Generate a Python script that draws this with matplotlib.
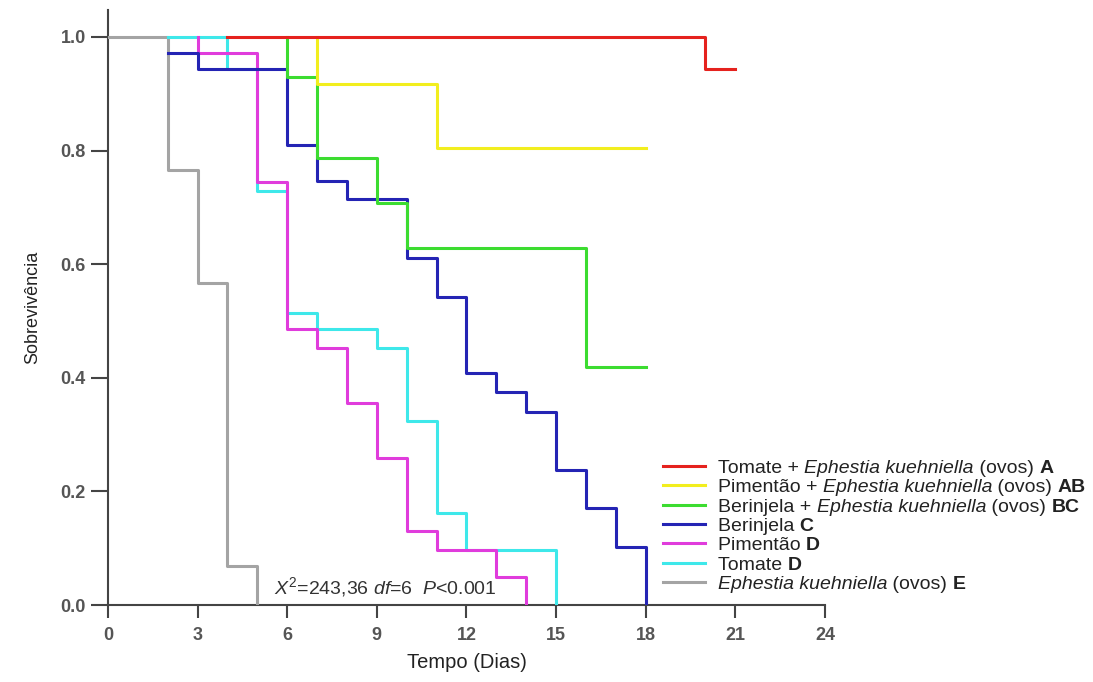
import matplotlib
matplotlib.use("Agg")
import matplotlib.pyplot as plt
from matplotlib.lines import Line2D

plt.rcParams['font.family'] = ['Liberation Sans', 'DejaVu Sans']
plt.rcParams['mathtext.fontset'] = 'custom'
plt.rcParams['mathtext.rm'] = 'Liberation Sans'
plt.rcParams['mathtext.it'] = 'Liberation Sans:italic'
plt.rcParams['mathtext.bf'] = 'Liberation Sans:bold'

# survival steps: value holds from times[i] on (last time = end of curve)
red_t = [4, 20, 21]
red_s = [1.0, 0.943, 0.943]
yellow_t = [7, 7, 11, 18]
yellow_s = [1.0, 0.917, 0.804, 0.804]
green_t = [6, 6, 7, 9, 10, 16, 18]
green_s = [1.0, 0.93, 0.786, 0.707, 0.629, 0.419, 0.419]
blue_t = [2, 3, 6, 7, 8, 10, 11, 12, 13, 14, 15, 16, 17, 18]
blue_s = [0.971, 0.943, 0.81, 0.747, 0.714, 0.611, 0.543, 0.408, 0.375, 0.34, 0.238, 0.17, 0.102, 0.0]
magenta_t = [3, 3, 5, 6, 7, 8, 9, 10, 11, 13, 14]
magenta_s = [1.0, 0.971, 0.745, 0.486, 0.452, 0.356, 0.259, 0.130, 0.097, 0.049, 0.0]
cyan_t = [2, 4, 5, 6, 7, 9, 10, 11, 12, 15]
cyan_s = [1.0, 0.943, 0.729, 0.514, 0.486, 0.452, 0.324, 0.162, 0.097, 0.0]
grey_t = [0, 2, 3, 4, 5]
grey_s = [1.0, 0.766, 0.567, 0.069, 0.0]

# legend labels as (text, style) pieces: n = normal, i = italic, b = bold
labels = [
    [("Tomate + ", "n"), ("Ephestia kuehniella", "i"), (" (ovos) ", "n"), ("A", "b")],
    [("Pimentão + ", "n"), ("Ephestia kuehniella", "i"), (" (ovos) ", "n"), ("AB", "b")],
    [("Berinjela + ", "n"), ("Ephestia kuehniella", "i"), (" (ovos) ", "n"), ("BC", "b")],
    [("Berinjela ", "n"), ("C", "b")],
    [("Pimentão ", "n"), ("D", "b")],
    [("Tomate ", "n"), ("D", "b")],
    [("Ephestia kuehniella", "i"), (" (ovos) ", "n"), ("E", "b")],
]
colors = ['#e5221e', '#f2ee1e', '#3cdc30', '#2424b4', '#e03cdc', '#3ee8ea', '#a4a4a4']
series = [(red_t, red_s), (yellow_t, yellow_s), (green_t, green_s), (blue_t, blue_s),
          (magenta_t, magenta_s), (cyan_t, cyan_s), (grey_t, grey_s)]

fig = plt.figure(figsize=(10.93, 6.82), dpi=100)
ax = fig.add_axes([0.0988, 0.1129, 0.656, 0.873])

n = len(series)
for i, ((t, s), c) in enumerate(zip(series, colors)):
    ax.step(t, s, where='post', color=c, lw=2.2, zorder=10 + n - i)

ax.set_xlim(0, 24)
ax.set_ylim(0, 1.048)
ax.set_xticks(range(0, 25, 3))
ax.set_yticks([0.0, 0.2, 0.4, 0.6, 0.8, 1.0])
ax.set_yticklabels(['0.0', '0.2', '0.4', '0.6', '0.8', '1.0'])
ax.spines['right'].set_visible(False)
ax.spines['top'].set_visible(False)
for sp in ['left', 'bottom']:
    ax.spines[sp].set_color('#444444')
    ax.spines[sp].set_linewidth(1.5)
ax.tick_params(direction='out', width=1.5, color='#444444',
               labelsize=13, labelcolor='#555555')
ax.tick_params(axis='y', length=12, pad=4)
ax.tick_params(axis='x', length=9, pad=7)
for lab in ax.get_xticklabels() + ax.get_yticklabels():
    lab.set_fontweight('bold')

ax.set_xlabel('Tempo (Dias)', fontsize=14.5, color='#222222', labelpad=6)
ax.set_ylabel('Sobrevivência', fontsize=13, color='#222222', labelpad=14)

ax.text(5.57, 0.01, r"$X^2$=243,36 $df$=6  $P$<0.001", fontsize=14,
        color='#333333', ha='left', va='bottom')

# legend with mixed styles, built row by row
W, H = fig.get_size_inches() * fig.dpi
x_line0, x_line1, x_txt = 663 / W, 705 / W, 718 / W
row0, drow = 466, 19.3
styles = {"n": dict(), "i": dict(style='italic'), "b": dict(weight='bold')}
for k, (pieces, c) in enumerate(zip(labels, colors)):
    py = row0 + k * drow
    fig.add_artist(Line2D([x_line0, x_line1], [1 - py / H] * 2, transform=fig.transFigure,
                          color=c, lw=2.2))
    txt, st = pieces[0]
    prev = fig.text(x_txt, 1 - (py + 2.5) / H, txt, fontsize=14, color='#222222',
                    ha='left', va='center', **styles[st])
    for txt, st in pieces[1:]:
        prev = ax.annotate(txt, xy=(1, 0), xycoords=prev, fontsize=14,
                           color='#222222', ha='left', va='bottom',
                           annotation_clip=False, **styles[st])

fig.savefig('out.png', dpi=100)
